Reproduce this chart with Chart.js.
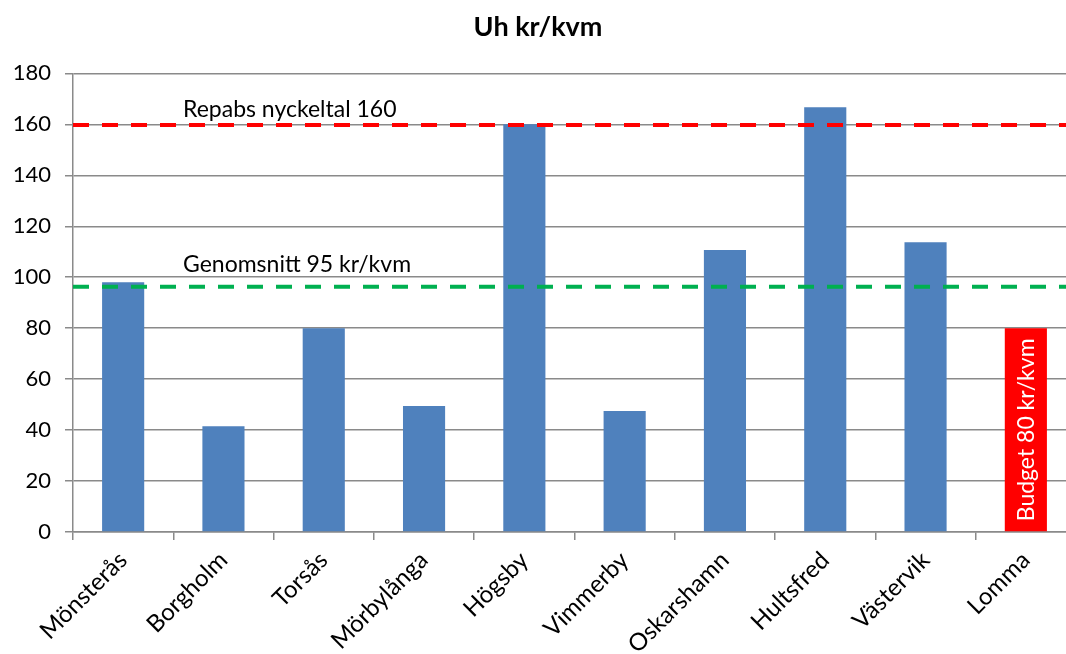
<!DOCTYPE html>
<html>
<head>
<meta charset="utf-8">
<script src="https://cdn.jsdelivr.net/npm/chart.js@4.4.1/dist/chart.umd.min.js"></script>
<style>
  html, body { margin: 0; padding: 0; background: #fff; overflow: hidden; }
  #wrap { width: 1096px; height: 654px; }
</style>
</head>
<body>
<div id="wrap"><canvas id="chart"></canvas></div>
<script>
  const categories = ['Mönsterås', 'Borgholm', 'Torsås', 'Mörbylånga', 'Högsby',
    'Vimmerby', 'Oskarshamn', 'Hultsfred', 'Västervik', 'Lomma'];
  const costPerSqm = [98, 41.5, 80, 49.5, 160, 47.5, 110.7, 166.7, 113.7, 80];
  const yTicks = [0, 20, 40, 60, 80, 100, 120, 140, 160, 180];

  const refValues = [159.7, 96.3];
  const refLabels = ['Repabs nyckeltal 160', 'Genomsnitt 95 kr/kvm'];
  const refColors = ['#FF0000', '#00B050'];
  const refTextOffsets = [8, 15];

  const budgetCategory = 'Lomma';
  const budgetLabel = 'Budget 80 kr/kvm';

  const BLUE = '#4F81BD';
  const RED = '#FF0000';
  const GRID = '#8a8a8a';
  const FONT = 'Lato, "Open Sans", sans-serif';

  const overlayPlugin = {
    id: 'overlay',
    afterDatasetsDraw(chart) {
      const ctx = chart.ctx;
      const area = chart.chartArea;
      const y = chart.scales.y;

      // reference lines with their captions
      refValues.forEach((val, i) => {
        const py = y.getPixelForValue(val);
        ctx.save();
        ctx.strokeStyle = refColors[i];
        ctx.lineWidth = 4;
        ctx.setLineDash([16, 13]);
        ctx.beginPath();
        ctx.moveTo(area.left, py);
        ctx.lineTo(area.right, py);
        ctx.stroke();
        ctx.restore();

        ctx.save();
        ctx.fillStyle = '#000';
        ctx.font = '23px ' + FONT;
        ctx.textAlign = 'left';
        ctx.textBaseline = 'alphabetic';
        ctx.fillText(refLabels[i], area.left + 110, py - refTextOffsets[i]);
        ctx.restore();
      });

      // vertical label inside the budget bar
      const idx = categories.indexOf(budgetCategory);
      const bar = chart.getDatasetMeta(0).data[idx];
      if (bar) {
        ctx.save();
        ctx.translate(bar.x, bar.base - 10);
        ctx.rotate(-Math.PI / 2);
        ctx.fillStyle = '#fff';
        ctx.font = '23px ' + FONT;
        ctx.textAlign = 'left';
        ctx.textBaseline = 'middle';
        ctx.fillText(budgetLabel, 0, 1);
        ctx.restore();
      }
    }
  };

  new Chart(document.getElementById('chart').getContext('2d'), {
    type: 'bar',
    data: {
      labels: categories,
      datasets: [{
        data: costPerSqm,
        backgroundColor: categories.map(c => c === budgetCategory ? RED : BLUE),
        borderWidth: 0,
        categoryPercentage: 1,
        barPercentage: 0.42,
      }]
    },
    options: {
      responsive: true,
      maintainAspectRatio: false,
      animation: false,
      layout: { padding: { left: 0, top: 0, bottom: 0, right: 20 } },
      plugins: {
        legend: { display: false },
        tooltip: { enabled: false },
        title: {
          display: true,
          text: 'Uh kr/kvm',
          color: '#000',
          font: { family: FONT, size: 27, weight: 'bold', lineHeight: 1.2 },
          padding: { top: 11, bottom: 30 }
        }
      },
      scales: {
        x: {
          offset: true,
          grid: {
            offset: true,
            drawOnChartArea: false,
            drawTicks: true,
            tickLength: 8,
            color: GRID,
            lineWidth: 1.5
          },
          border: { color: GRID, width: 1.5 },
          ticks: {
            color: '#000',
            font: { family: FONT, size: 24 },
            maxRotation: 45,
            minRotation: 45,
            padding: 6,
            autoSkip: false
          },
          afterFit(scale) { scale.height = 122; }
        },
        y: {
          min: 0,
          max: 180,
          afterBuildTicks(scale) { scale.ticks = yTicks.map(v => ({ value: v })); },
          grid: {
            color: GRID,
            lineWidth: 1.5,
            tickLength: 8
          },
          border: { color: GRID, width: 1.5 },
          ticks: {
            color: '#000',
            font: { family: FONT, size: 22 },
            padding: 14
          },
          afterFit(scale) { scale.width = 73; }
        }
      }
    },
    plugins: [overlayPlugin]
  });
</script>
</body>
</html>
